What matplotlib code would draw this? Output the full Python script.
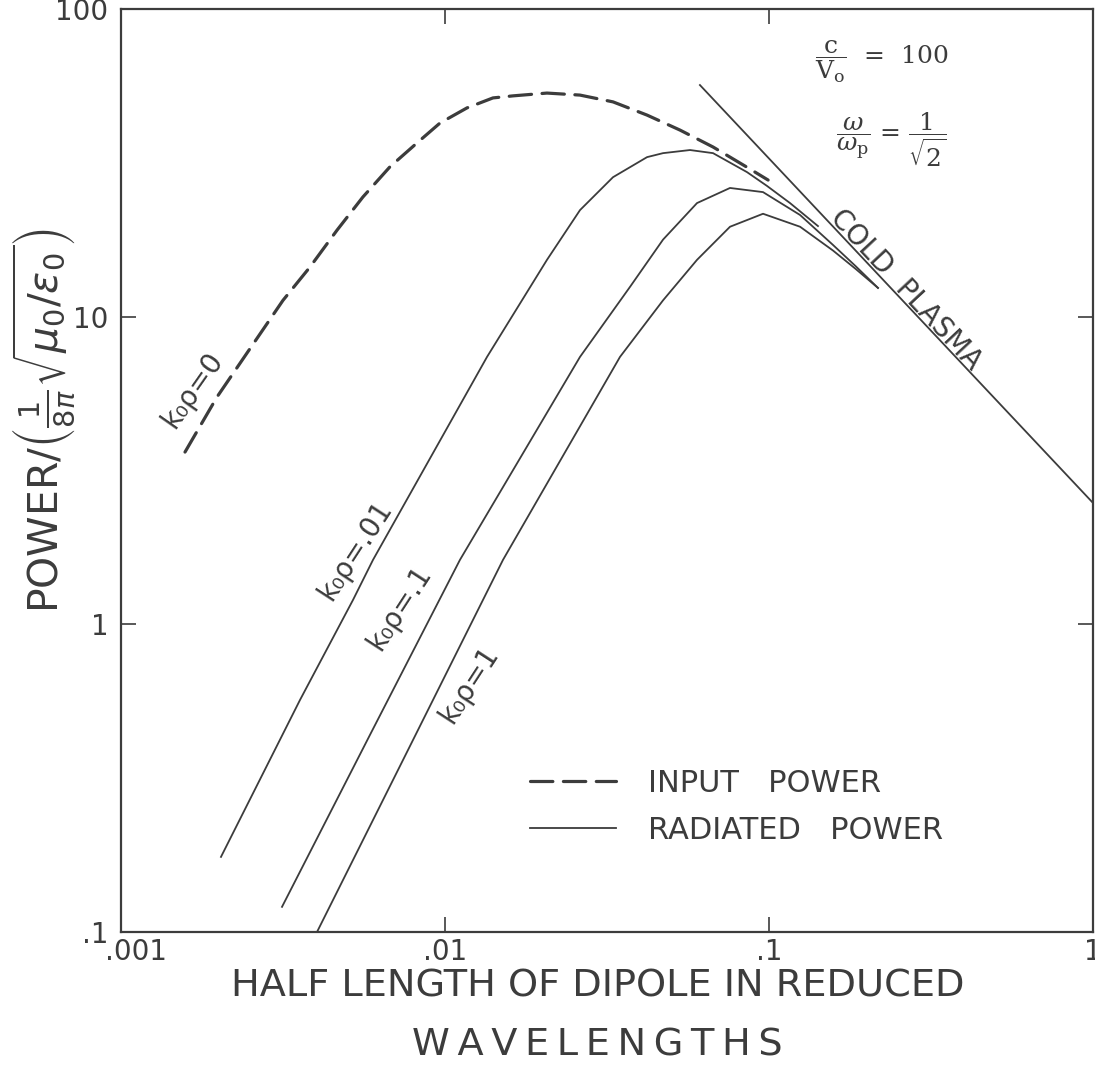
import numpy as np
import matplotlib
matplotlib.use("Agg")
import matplotlib.pyplot as plt
from matplotlib.transforms import ScaledTranslation

plt.rcParams['font.family'] = ['DejaVu Sans']
plt.rcParams['mathtext.fontset'] = 'dejavusans'

INK = '#3c3c3c'

# half length of dipole (reduced wavelengths) and power
input_x = [0.001576, 0.001978, 0.002449, 0.003162, 0.003831, 0.004642, 0.005582,
           0.006763, 0.008196, 0.009652, 0.01169, 0.01406, 0.01622, 0.02064,
           0.0261, 0.0330, 0.04203, 0.05313, 0.06718, 0.08551, 0.09935]
input_p = [3.63, 5.48, 7.62, 11.3, 14.5, 19.1, 24.5,
           30.7, 36.7, 42.6, 47.7, 51.4, 52.2, 53.3,
           52.5, 49.9, 45.2, 40.4, 35.6, 30.6, 27.8]

rad_001_x = [0.002035, 0.003569, 0.0052, 0.005995, 0.01348, 0.02064, 0.0261,
             0.0330, 0.04203, 0.04709, 0.05704, 0.06718, 0.08551, 0.09858, 0.1161, 0.1416]
rad_001_p = [0.1754, 0.568, 1.20, 1.62, 7.40, 15.3, 22.2,
             28.4, 33.0, 34.0, 34.8, 34.0, 29.5, 26.6, 23.4, 19.7]

rad_01_x = [0.00314, 0.005909, 0.01112, 0.0261, 0.03724, 0.04709,
            0.05995, 0.07579, 0.09583, 0.1247, 0.1576, 0.185, 0.2169]
rad_01_p = [0.1207, 0.4436, 1.62, 7.40, 12.5, 17.8,
            23.4, 26.2, 25.4, 21.4, 17.1, 14.6, 12.4]

rad_1_x = [0.004027, 0.0078, 0.01169, 0.0151, 0.03468, 0.04709, 0.05995,
           0.07579, 0.09583, 0.1247, 0.1576, 0.185, 0.2169]
rad_1_p = [0.1, 0.4025, 0.9447, 1.62, 7.40, 11.3, 15.3,
           19.6, 21.6, 19.6, 16.4, 14.3, 12.4]

cold_x = [0.0612, 1.0]
cold_p = [56.6, 2.48]

x_ticks = [0.001, 0.01, 0.1, 1]
x_labels = ['.001', '.01', '.1', '1']
y_ticks = [0.1, 1, 10, 100]
y_labels = ['.1', '1', '10', '100']

fig = plt.figure(figsize=(10.95, 10.71), dpi=100)
ax = fig.add_axes([0.1105, 0.1298, 0.8877, 0.8618])

h_in, = ax.plot(input_x, input_p, color=INK, lw=2.3, dashes=(7, 3.3),
                solid_capstyle='round', dash_capstyle='round')
h_rad, = ax.plot(rad_001_x, rad_001_p, color=INK, lw=1.3)
ax.plot(rad_01_x, rad_01_p, color=INK, lw=1.3)
ax.plot(rad_1_x, rad_1_p, color=INK, lw=1.3)
ax.plot(cold_x, cold_p, color=INK, lw=1.3)

ax.set_xscale('log')
ax.set_yscale('log')
ax.set_xlim(0.001, 1)
ax.set_ylim(0.1, 100)
ax.set_xticks(x_ticks)
ax.set_xticklabels(x_labels)
ax.set_yticks(y_ticks)
ax.set_yticklabels(y_labels)
ax.minorticks_off()
ax.tick_params(which='major', direction='in', length=11, width=1.2, color=INK,
               labelcolor=INK, labelsize=20, top=True, right=True)
ax.tick_params(axis='x', pad=4)
ax.tick_params(axis='y', pad=9)
for sp in ax.spines.values():
    sp.set_linewidth(1.6)
    sp.set_color(INK)

# the leading dot makes ".001" sit a little right of its tick
first = ax.get_xticklabels()[0]
first.set_transform(first.get_transform() + ScaledTranslation(0.15, 0, fig.dpi_scale_trans))

# second line is lettered wider, so pad it with thin spaces
line2 = '\u2009'.join('WAVELENGTHS')
ax.set_xlabel('HALF LENGTH OF DIPOLE IN REDUCED\n' + line2, fontsize=27.5,
              color=INK, linespacing=1.8)
ax.xaxis.set_label_coords(0.49, -0.040)

fig.text(0.0393, 0.6069, r'POWER/$\left(\frac{1}{8\pi}\sqrt{\mu_0/\epsilon_0}\right)$',
         rotation=90, ha='center', va='center', fontsize=29.5, color=INK)

# curve labels
lab = dict(transform=ax.transAxes, ha='center', va='center', rotation_mode='anchor',
           fontsize=20, color=INK)
ax.text(0.074, 0.587, 'k₀ρ=0', rotation=55, **lab)
ax.text(0.241, 0.414, 'k₀ρ=.01', rotation=57, **lab)
ax.text(0.287, 0.351, 'k₀ρ=.1', rotation=57, **lab)
ax.text(0.358, 0.268, 'k₀ρ=1', rotation=57, **lab)
ax.text(0.807, 0.696, 'COLD  PLASMA', rotation=-47, **lab)

# plasma parameters
par = dict(transform=ax.transAxes, ha='center', va='center', fontsize=18,
           color=INK, family='DejaVu Serif', math_fontfamily='dejavuserif')
ax.text(0.783, 0.9426, r'$\dfrac{\mathrm{c}}{\mathrm{V}_\mathrm{o}}$  =  100', **par)
ax.text(0.793, 0.8580, r'$\dfrac{\omega}{\omega_\mathrm{p}}$ = $\dfrac{1}{\sqrt{2}}$', **par)

leg = ax.legend([h_in, h_rad], ['INPUT   POWER', 'RADIATED   POWER'],
                loc='upper left', bbox_to_anchor=(0.421, 0.1767), frameon=False,
                fontsize=22, handlelength=2.8, handletextpad=1.05, labelspacing=0.58,
                borderpad=0, borderaxespad=0)
for t in leg.get_texts():
    t.set_color(INK)

fig.savefig('out.png', dpi=100, facecolor='white')
